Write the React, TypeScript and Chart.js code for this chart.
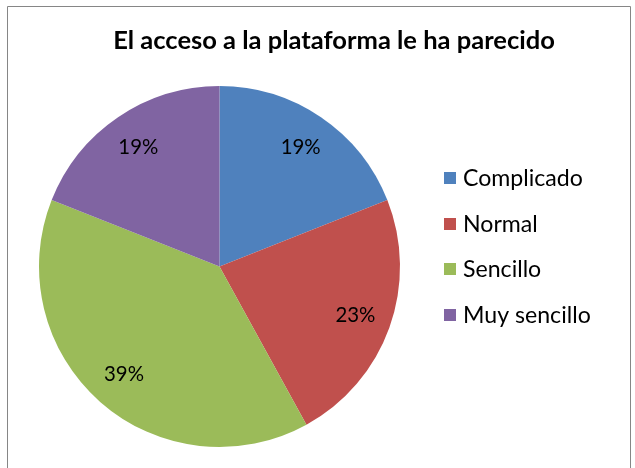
import React, { useEffect, useRef } from "react";
import { Chart, registerables } from "chart.js";

Chart.register(...registerables);

const title = "El acceso a la plataforma le ha parecido";
const categories = ["Complicado", "Normal", "Sencillo", "Muy sencillo"];
const values = [19, 23, 39, 19];
const colors = ["#4F81BD", "#C0504D", "#9BBB59", "#8064A2"];

const FONT = "Lato, 'Liberation Sans', sans-serif";

const decorPlugin = {
  id: "decor",
  beforeDraw(chart: any) {
    const ctx = chart.ctx;
    ctx.save();
    ctx.fillStyle = "#ffffff";
    ctx.fillRect(0, 0, chart.width, chart.height);
    ctx.strokeStyle = "#868686";
    ctx.lineWidth = 1;
    ctx.beginPath();
    ctx.moveTo(7.5, chart.height + 2);
    ctx.lineTo(7.5, 6.5);
    ctx.lineTo(630.5, 6.5);
    ctx.lineTo(630.5, chart.height + 2);
    ctx.stroke();
    ctx.restore();
  },
  afterDraw(chart: any) {
    const ctx = chart.ctx;
    ctx.save();
    // title
    ctx.fillStyle = "#000000";
    ctx.textAlign = "center";
    ctx.textBaseline = "middle";
    ctx.font = `bold 22px ${FONT}`;
    const tw = ctx.measureText(title).width;
    const ts = (22 * 442) / tw;
    ctx.font = `bold ${ts}px ${FONT}`;
    ctx.fillText(title, 334, 41);

    // data labels
    const meta = chart.getDatasetMeta(0);
    const total = values.reduce((a, b) => a + b, 0);
    ctx.font = `17px ${FONT}`;
    const pw = ctx.measureText("19%").width;
    const ps = (17 * 40) / pw;
    ctx.font = `${ps}px ${FONT}`;
    meta.data.forEach((arc: any, i: number) => {
      const mid = (arc.startAngle + arc.endAngle) / 2;
      const r = arc.outerRadius * 0.8;
      const x = arc.x + Math.cos(mid) * r;
      const y = arc.y + Math.sin(mid) * r;
      ctx.fillStyle = "#000000";
      ctx.fillText(Math.round((values[i] / total) * 100) + "%", x, y);
    });

    // legend
    ctx.textAlign = "left";
    ctx.font = `20px ${FONT}`;
    const lw = ctx.measureText(categories[0]).width;
    const ls = (20 * 120) / lw;
    ctx.font = `${ls}px ${FONT}`;
    const ys = [178, 224, 269, 315];
    categories.forEach((c, i) => {
      ctx.fillStyle = colors[i];
      ctx.fillRect(444, ys[i] - 6, 12, 12);
      ctx.fillStyle = "#000000";
      ctx.fillText(c, 463, ys[i] + 1);
    });
    ctx.restore();
  },
};

export default function App() {
  const ref = useRef<HTMLCanvasElement>(null);
  useEffect(() => {
    if (!ref.current) return;
    const chart = new Chart(ref.current, {
      type: "pie",
      data: {
        labels: categories,
        datasets: [
          {
            data: values,
            backgroundColor: colors,
            borderWidth: 0,
          },
        ],
      },
      options: {
        animation: false,
        responsive: false,
        maintainAspectRatio: false,
        layout: { padding: { left: 39, top: 86, right: 235, bottom: 21 } },
        plugins: {
          legend: { display: false },
          title: { display: false },
          tooltip: { enabled: false },
        },
      },
      plugins: [decorPlugin],
    });
    return () => chart.destroy();
  }, []);
  return (
    <canvas
      ref={ref}
      width={635}
      height={468}
      style={{ position: "fixed", left: 0, top: 0, width: 635, height: 468 }}
    />
  );
}
